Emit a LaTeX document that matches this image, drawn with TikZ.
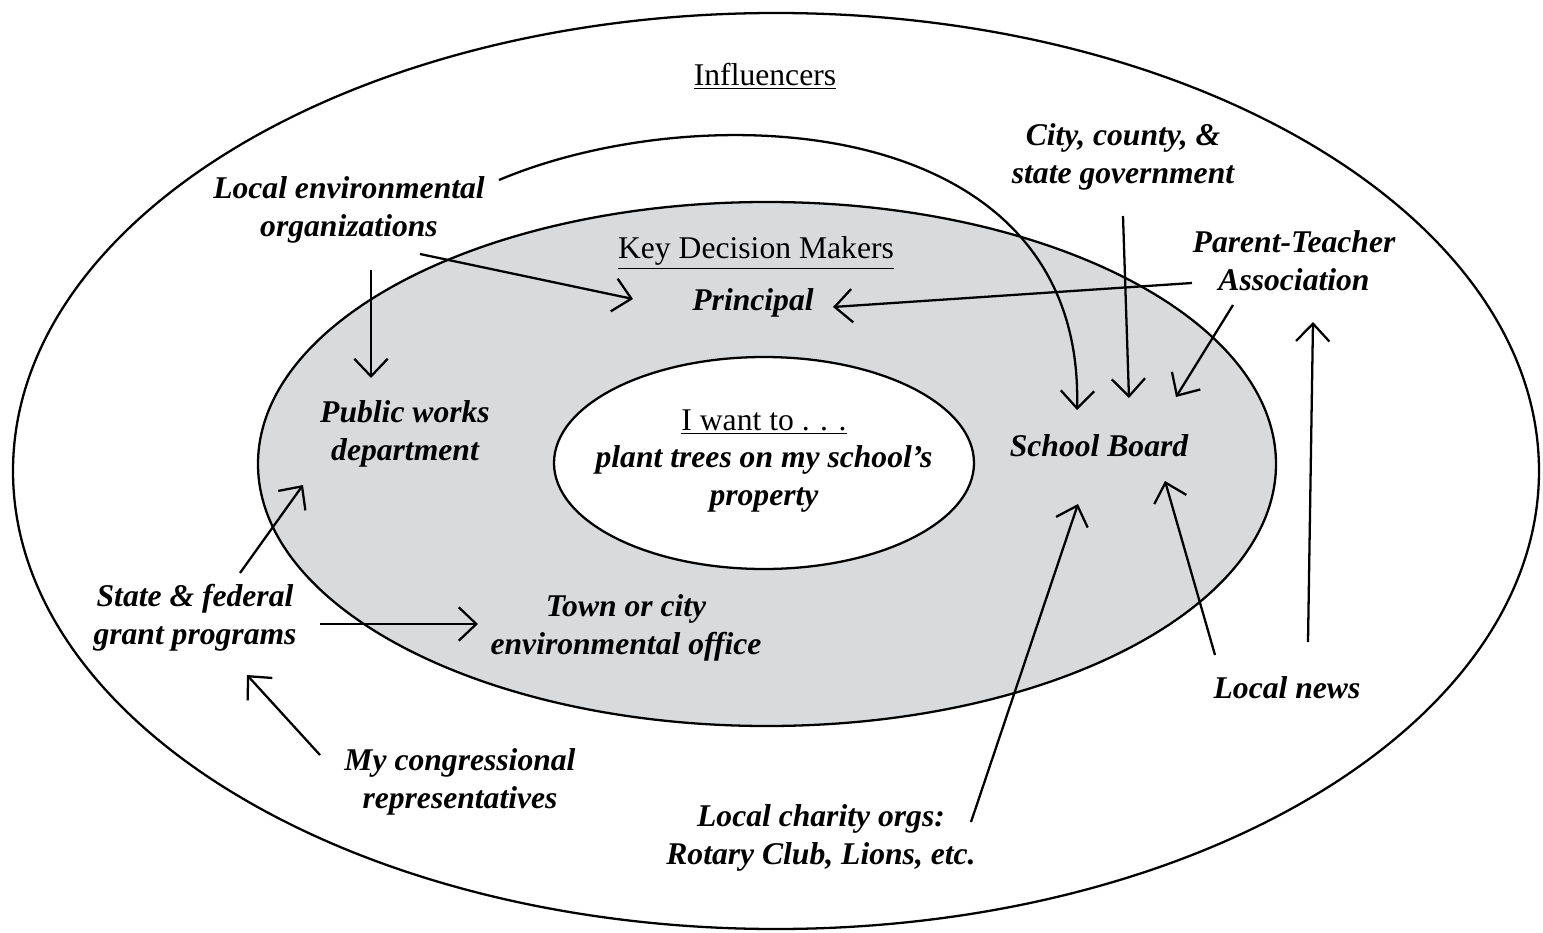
\documentclass[tikz,border=0pt]{standalone}
\usepackage{fontspec}
\setmainfont{Liberation Serif}
\usetikzlibrary{arrows.meta}
\definecolor{keygray}{RGB}{217,218,220}

\begin{document}
\begin{tikzpicture}[x=0.02cm, y=-0.02cm,
    ring/.style={draw=black, line width=1.3pt},
    who/.style={font=\fontsize{18}{21.5}\selectfont\bfseries\itshape, align=center, inner sep=0pt},
    head/.style={font=\fontsize{18}{21.5}\selectfont, align=center, inner sep=0pt},
    pull/.style={-{Straight Barb[length=10pt,width=19pt]}, line width=1.3pt}
]
\useasboundingbox (0,0) rectangle (1543,933);

\draw[ring] (776,471) ellipse [x radius=763, y radius=458];
\filldraw[ring, fill=keygray] (767,464) ellipse [x radius=509, y radius=262];
\filldraw[ring, fill=white] (764,463) ellipse [x radius=210, y radius=106];

\node[head] (infl) at (765,76) {\underline{Influencers}};
\node[head] (kdm) at (756,253) {\underline{Key Decision Makers}};
\node[head] (goal) at (764,461) {\underline{I want to . . .}\\
    \bfseries\itshape plant trees on my school’s\\ \bfseries\itshape property};

\node[who] (env) at (349,210) {Local environmental\\organizations};
\node[who] (city) at (1123,157) {City, county, \&\\state government};
\node[who] (pta) at (1294,261) {Parent-Teacher\\Association};
\node[who] (prin) at (753,303) {Principal};
\node[who] (pubw) at (405,434) {Public works\\department};
\node[who] (board) at (1099,446) {School Board};
\node[who] (grant) at (195,618) {State \& federal\\grant programs};
\node[who] (town) at (626,628) {Town or city\\environmental office};
\node[who] (news) at (1287,688) {Local news};
\node[who] (congr) at (460,782) {My congressional\\representatives};
\node[who] (charity) at (821,838) {Local charity orgs:\\Rotary Club, Lions, etc.};

\coordinate (env-a) at (499,180);
\coordinate (env-b) at (420,254);
\coordinate (env-c) at (371,270);
\coordinate (prin-l) at (633,299);
\coordinate (prin-r) at (833,307);
\coordinate (pubw-t) at (371,378);
\coordinate (pubw-b) at (303,485);
\coordinate (city-b) at (1123,216);
\coordinate (pta-l) at (1192,283);
\coordinate (pta-b) at (1233,305);
\coordinate (pta-u) at (1313,322);
\coordinate (board-a) at (1077,410);
\coordinate (board-b) at (1129,398);
\coordinate (board-c) at (1176,397);
\coordinate (board-d) at (1078,504);
\coordinate (board-e) at (1165,481);
\coordinate (news-a) at (1215,655);
\coordinate (news-b) at (1308,642);
\coordinate (charity-t) at (971,822);
\coordinate (grant-a) at (240,573);
\coordinate (grant-b) at (320,624);
\coordinate (grant-c) at (247,675);
\coordinate (town-l) at (478,624);
\coordinate (congr-t) at (320,755);

\draw[pull] (env-a) .. controls (700,95) and (1085,110) .. (board-a);
\draw[pull] (env-b) -- (prin-l);
\draw[pull] (env-c) -- (pubw-t);
\draw[pull] (pta-l) -- (prin-r);
\draw[pull] (city-b) -- (board-b);
\draw[pull] (pta-b) -- (board-c);
\draw[pull] (news-b) -- (pta-u);
\draw[pull] (news-a) -- (board-e);
\draw[pull] (charity-t) -- (board-d);
\draw[pull] (grant-a) -- (pubw-b);
\draw[pull] (grant-b) -- (town-l);
\draw[pull] (congr-t) -- (grant-c);

\end{tikzpicture}
\end{document}
